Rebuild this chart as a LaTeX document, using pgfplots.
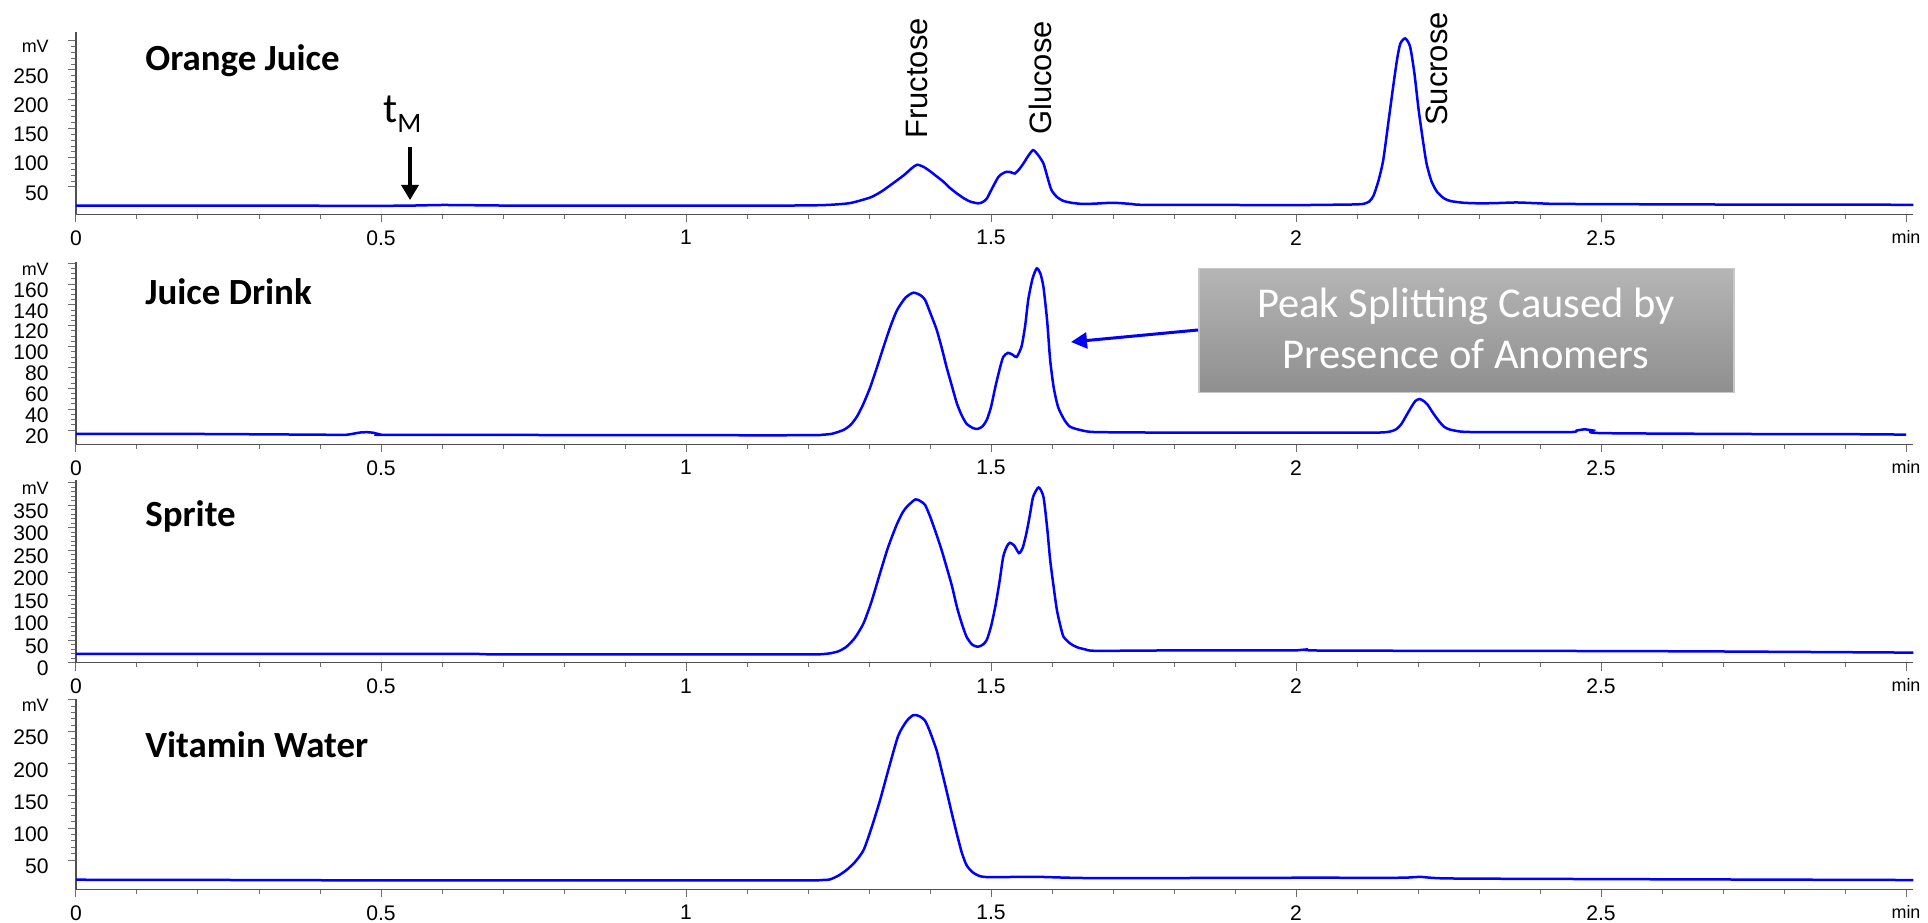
\documentclass[border=0pt]{standalone}
\usepackage{fontspec}
\setmainfont{Liberation Sans}
\newfontfamily\calibri{Carlito}
\usepackage{pgfplots}
\pgfplotsset{compat=1.18}
\usetikzlibrary{arrows.meta}
\definecolor{axgray}{RGB}{80,80,80}
\definecolor{tkgray}{RGB}{110,110,110}
\pgfplotsset{chrom/.style={
  scale only axis, width=367.46mm,
  xmin=0, xmax=3.012,
  axis x line*=bottom, axis y line*=left,
  xtick={0,0.5,1,1.5,2,2.5,3},
  xticklabels={0,0.5,1,1.5,2,2.5,{\fontsize{10.2}{10.2}\selectfont min}},
  minor x tick num=4,
  tick align=outside,
  major tick length=1.6mm, minor tick length=0.9mm,
  axis line style={draw=axgray, line width=0.3mm},
  tick style={draw=tkgray, line width=0.2mm},
  xticklabel style={anchor=north, inner sep=0pt, yshift=-1.54mm, font=\fontsize{12}{12}\selectfont},
  yticklabel style={anchor=east, inner sep=0pt, xshift=-3.8mm, yshift=-1.2mm, font=\fontsize{12}{12}\selectfont},
  no markers,
  every axis plot/.style={blue, line width=0.5mm, smooth, tension=0.4, mark=none},
}}
\begin{document}
\begin{tikzpicture}
% Panel 1: Orange Juice
\begin{axis}[chrom, at={(15.2mm,141.54mm)}, anchor=south west, height=36.52mm,
  ymin=3.3, ymax=315.4, ytick={50,100,150,200,250,300},
  yticklabels={50,100,150,200,250,{\fontsize{10.2}{10.2}\selectfont mV}}, minor y tick num=4]
\addplot coordinates {(0,18.3)(0.2,18.2)(0.4,17.9)(0.5,17.8)(0.55,18.2)(0.6,19.2)(0.65,18.8)(0.7,18.3)(0.9,18)(1.1,18)(1.2,18.5)(1.236,19.5)(1.269,22.5)(1.302,32)(1.32,42)(1.335,53)(1.357,70)(1.37,82)(1.379,88)(1.39,84)(1.40,77)(1.411,68)(1.422,59)(1.433,48)(1.444,39)(1.455,31)(1.466,25)(1.479,22)(1.486,24)(1.493,30)(1.502,48)(1.512,67)(1.519,73)(1.526,76)(1.533,75)(1.539,73)(1.546,80)(1.553,90)(1.561,103)(1.569,113)(1.577,105)(1.586,90)(1.593,65)(1.599,45)(1.608,33)(1.619,26)(1.635,22.5)(1.651,21)(1.67,21.5)(1.70,23)(1.73,21)(1.75,19.5)(1.9,19.2)(2.0,19)(2.05,19.5)(2.09,20)(2.11,21)(2.12,25)(2.127,35)(2.135,60)(2.143,96)(2.152,165)(2.160,227)(2.166,270)(2.171,295)(2.179,304)(2.187,290)(2.194,245)(2.201,182)(2.208,130)(2.214,90)(2.222,60)(2.231,42)(2.242,31)(2.253,26)(2.275,23)(2.302,22)(2.33,22.5)(2.362,23.5)(2.40,22)(2.438,21)(2.7,20)(2.9,19.8)(3.012,19.5)};
\end{axis}
% Panel 2: Juice Drink
\begin{axis}[chrom, at={(15.2mm,95.54mm)}, anchor=south west, height=36.52mm,
  ymin=6.3, ymax=181.4, ytick={20,40,...,180},
  yticklabels={20,40,60,80,100,120,140,160,{\fontsize{10.2}{10.2}\selectfont mV}}, minor y tick num=3]
\addplot coordinates {(0,16.4)(0.2,16.2)(0.4,15.5)(0.44,15.3)(0.455,16.5)(0.466,17.6)(0.477,17.9)(0.487,17.4)(0.497,16)(0.51,15.3)(0.8,15.2)(1.0,15.0)(1.2,15)(1.225,15.5)(1.24,16.5)(1.258,20)(1.27,25)(1.28,32.7)(1.29,44)(1.302,61)(1.313,80)(1.324,100)(1.335,119)(1.346,135)(1.36,147)(1.373,151.7)(1.385,149)(1.392,144.7)(1.40,133)(1.411,116)(1.42,97)(1.427,80.7)(1.436,62)(1.444,45.6)(1.452,34)(1.46,26)(1.47,22)(1.478,21)(1.486,23.5)(1.493,29.6)(1.50,42)(1.507,61)(1.514,78)(1.520,90)(1.528,94)(1.536,92)(1.542,90)(1.55,100)(1.556,120)(1.561,144.7)(1.568,165)(1.575,175)(1.581,170)(1.586,157)(1.592,125)(1.597,87)(1.603,60)(1.61,42)(1.62,30)(1.63,23)(1.65,19.5)(1.673,18)(1.8,17.5)(2.0,17.5)(2.13,17.5)(2.154,18.5)(2.165,21)(2.173,26)(2.181,34)(2.189,42)(2.196,48)(2.203,49.7)(2.21,47.5)(2.216,44)(2.225,36)(2.235,28)(2.243,23)(2.252,20.5)(2.27,18.5)(2.30,18)(2.448,18)(2.46,19.5)(2.473,20.6)(2.487,19.5)(2.503,17)(2.82,16)(2.905,16)(3.0,15.6)};
\end{axis}
% Panel 3: Sprite
\begin{axis}[chrom, at={(15.2mm,51.86mm)}, anchor=south west, height=36.54mm,
  ymin=-0.4, ymax=405.6, ytick={0,50,...,400},
  yticklabels={0,50,100,150,200,250,300,350,{\fontsize{10.2}{10.2}\selectfont mV}}, minor y tick num=4]
\addplot coordinates {(0,19)(0.3,19)(0.6,19)(0.66,19)(0.7,18)(1.0,18)(1.2,18)(1.222,18.5)(1.236,20.4)(1.25,25)(1.263,35)(1.277,55)(1.291,87)(1.304,135)(1.318,198)(1.331,255)(1.345,305)(1.355,333)(1.362,346)(1.376,362.6)(1.385,358)(1.392,350)(1.40,325)(1.411,283)(1.419,250)(1.427,213)(1.436,170)(1.444,124)(1.452,87)(1.460,57)(1.469,40)(1.478,35)(1.486,39)(1.493,50)(1.50,80)(1.507,124)(1.514,180)(1.520,235)(1.526,258)(1.531,266)(1.538,260)(1.546,243)(1.552,255)(1.558,287)(1.564,330)(1.569,368)(1.578,389)(1.586,368)(1.592,300)(1.597,228)(1.603,165)(1.608,117)(1.614,80)(1.619,57)(1.63,42)(1.641,34)(1.655,29)(1.673,26)(1.81,27)(1.95,27)(2.0,27)(2.017,29)(2.05,26.5)(2.5,25.5)(2.7,24.5)(3.012,22)};
\end{axis}
% Panel 4: Vitamin Water
\begin{axis}[chrom, at={(15.2mm,6.54mm)}, anchor=south west, height=38mm,
  ymin=4.6, ymax=300.5, ytick={50,100,...,300},
  yticklabels={50,100,150,200,250,{\fontsize{10.2}{10.2}\selectfont mV}}, minor y tick num=4]
\addplot coordinates {(0,19.5)(0.3,19)(0.5,18.5)(1.0,18.5)(1.2,18.5)(1.222,19)(1.236,20)(1.25,26)(1.263,34.5)(1.277,47)(1.291,65.5)(1.304,100)(1.318,143)(1.333,195)(1.348,244)(1.362,267)(1.373,276)(1.383,274)(1.392,267)(1.40,250)(1.411,220.5)(1.419,190)(1.427,158.5)(1.436,122)(1.444,91)(1.452,62)(1.46,42)(1.47,31)(1.482,25)(1.495,23.5)(1.509,23.5)(1.575,24)(1.673,22)(2.0,22.6)(2.17,22.6)(2.203,24)(2.25,21.5)(2.5,20.5)(3.012,19)};
\end{axis}
% titles
\node[anchor=base west, inner sep=0pt, font=\calibri\bfseries\fontsize{21}{21}\selectfont] at (29mm,170.2mm) {Orange Juice};
\node[anchor=base west, inner sep=0pt, font=\calibri\bfseries\fontsize{21}{21}\selectfont] at (29mm,123.4mm) {Juice Drink};
\node[anchor=base west, inner sep=0pt, font=\calibri\bfseries\fontsize{21}{21}\selectfont] at (29mm,79mm) {Sprite};
\node[anchor=base west, inner sep=0pt, font=\calibri\bfseries\fontsize{21}{21}\selectfont] at (29mm,32.8mm) {Vitamin Water};
% peak labels
\node[rotate=90, anchor=west, inner sep=0pt, font=\fontsize{17.6}{17.6}\selectfont] at (183.4mm,156.6mm) {Fructose};
\node[rotate=90, anchor=west, inner sep=0pt, font=\fontsize{17.6}{17.6}\selectfont] at (208mm,157.4mm) {Glucose};
\node[rotate=90, anchor=west, inner sep=0pt, font=\fontsize{17.6}{17.6}\selectfont] at (287.4mm,159.2mm) {Sucrose};
% t_M
\node[anchor=base west, inner sep=0pt] at (76.6mm,159.8mm) {{\calibri\fontsize{23.9}{23.9}\selectfont t}\raisebox{-2mm}{\calibri\fontsize{16}{16}\selectfont M}};
\draw[black, line width=0.66mm, -{Triangle[width=3.4mm, length=3mm]}] (82mm,155mm) -- (82mm,144.4mm);
% annotation box
\node[draw=black!22, line width=0.3mm, top color=black!29, bottom color=black!44, minimum width=107mm, minimum height=24.8mm, anchor=north west, inner sep=0pt] at (239.6mm,130.8mm) {};
\node[anchor=base, inner sep=0pt, text=white, font=\calibri\fontsize{24.2}{24.2}\selectfont] at (293.2mm,120.8mm) {Peak Splitting Caused by};
\node[anchor=base, inner sep=0pt, text=white, font=\calibri\fontsize{24.2}{24.2}\selectfont] at (293.2mm,110.6mm) {Presence of Anomers};
\draw[blue, line width=0.6mm, -{Triangle[width=3.2mm, length=3.2mm]}] (239.6mm,118.4mm) -- (214.2mm,116mm);
\pgfresetboundingbox
\path (0,0) rectangle (385.6mm,184.4mm);
\end{tikzpicture}
\end{document}
